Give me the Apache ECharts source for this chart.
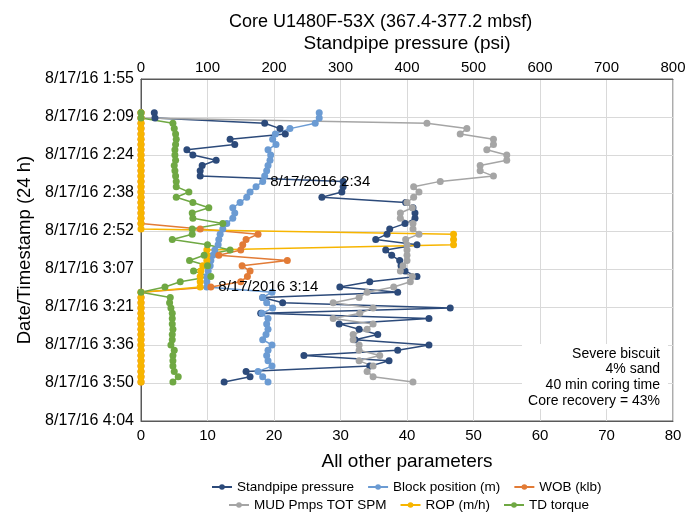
<!DOCTYPE html>
<html>
<head>
<meta charset="utf-8">
<script src="https://cdn.jsdelivr.net/npm/echarts@6/dist/echarts.min.js"></script>
<style>html,body{margin:0;padding:0;background:#fff}#c{width:696px;height:512px}</style>
</head>
<body>
<div id="c"></div>
<script>
// Sample timestamps (8/17/16, 24 h)
const times = ['2:08','2:10','2:12','2:14','2:16','2:18','2:20','2:22','2:24','2:26','2:28','2:30','2:32','2:34','2:36','2:38','2:40','2:42','2:44','2:46','2:48','2:50','2:52','2:54','2:56','2:58','3:00','3:02','3:04','3:06','3:08','3:10','3:12','3:14','3:16','3:18','3:20','3:22','3:24','3:26','3:28','3:30','3:32','3:34','3:36','3:38','3:40','3:42','3:44','3:46','3:48','3:50'];
const standpipe = [20,21,186,209,217,134,141,69,78,113,92,89,89,304,304,302,272,398,409,412,412,397,374,370,353,415,368,377,389,391,397,415,344,299,386,183,213,465,180,433,298,328,356,322,433,386,245,373,344,158,164,125];
const blockPos = [26.8,26.8,26.2,22.4,20.2,19.8,20.3,19.1,19.5,19.4,19.1,18.9,18.6,18.3,17.3,16.4,15.9,14.9,13.8,14.1,13.8,12.9,12.3,11.9,11.7,11.6,11.1,10.8,10.5,10.4,10.1,9.9,9.9,9.9,19.7,18.3,18.9,19.8,18.2,19.1,18.9,19.1,18.8,18.3,19.7,19.1,18.9,19.1,19.7,17.6,18.3,19.1];
const wob = [0,0,0,0,0,0,0,0,0,0,0,0,0,0,0,0,0,0,0,0,0,0,8.9,17.6,15.8,15.3,15.0,11.7,22.0,15.2,16.4,16.0,15.0,10.5,0,0,0,0,0,0,0,0,0,0,0,0,0,0,0,0,0,0];
const mud = [0,0,43,49,48,53,53,52,55,55,51,51,53,45,41,41.8,41,40,40.8,39,39,40.9,40.9,41.8,39.8,40,40,40,40,39.4,39,40.8,40.5,38,34,32.8,28.9,34.9,32.9,28.9,34.9,34,31.9,31.9,32.8,32.8,35.9,32.8,34.9,34,34.9,40.9];
const rop = [0,0,0,0,0,0,0,0,0,0,0,0,0,0,0,0,0,0,0,0,0,0,0,47,47,47,9.9,9.9,9.9,9.3,9.0,8.9,8.9,8.9,0,0,0,0,0,0,0,0,0,0,0,0,0,0,0,0,0,0];
const tdTorque = [0,0,4.8,5.0,5.2,5.3,5.2,5.1,5.1,5.2,5.0,5.1,5.2,5.3,5.3,7.2,5.3,7.8,10.2,7.7,7.8,12.3,7.7,7.7,4.7,10,13.4,9.5,7.3,10,7.9,10.5,5.9,3.6,0,4.4,4.3,4.5,4.7,4.7,4.7,4.8,4.7,4.7,4.5,5.0,4.8,4.8,4.8,5.0,5.6,4.8];
const annotations = [
  {series: 'Block position (m)', time: '2:34', text: '8/17/2016 2:34'},
  {series: 'WOB (klb)', time: '3:14', text: '8/17/2016 3:14'}
];
const noteLines = ['Severe biscuit', '4% sand', '40 min coring time', 'Core recovery = 43%'];

const FONT = '"Liberation Sans", Arial, Helvetica, sans-serif';
function toMin(t){ const p = t.split(':'); return (+p[0])*60 + (+p[1]); }
function build(name, vals){
  return vals.map((v,i) => {
    const item = {value: [v, toMin(times[i])]};
    const a = annotations.find(a => a.series === name && a.time === times[i]);
    if (a) item.label = {show: true, position: 'right', formatter: a.text, fontSize: 15, color: '#000', fontFamily: FONT, distance: 4};
    return item;
  });
}
const defs = [
  {name: 'Standpipe pressure', vals: standpipe, color: '#2c4a7a', axis: 1},
  {name: 'Block position (m)', vals: blockPos, color: '#6b9bd3', axis: 0},
  {name: 'WOB (klb)', vals: wob, color: '#e27b36', axis: 0},
  {name: 'MUD Pmps TOT SPM', vals: mud, color: '#a5a5a5', axis: 0},
  {name: 'ROP (m/h)', vals: rop, color: '#f7b500', axis: 0},
  {name: 'TD torque', vals: tdTorque, color: '#6fa843', axis: 0}
];
const series = defs.map(d => ({
  name: d.name, type: 'line', xAxisIndex: d.axis, yAxisIndex: 0,
  data: build(d.name, d.vals),
  symbol: 'circle', symbolSize: 7, showAllSymbol: true,
  itemStyle: {color: d.color}, lineStyle: {color: d.color, width: 1.5},
  emphasis: {disabled: true}, animation: false
}));

const noteGraphics = [{type: 'rect', shape: {x: 522, y: 344, width: 146, height: 65}, style: {fill: '#fff'}, z: 99}]
  .concat(noteLines.map((t, i) => ({type: 'text', x: 660, y: 354 + i * 15.6, z: 100,
    style: {text: t, align: 'right', verticalAlign: 'middle', fontSize: 14, fill: '#000', fontFamily: FONT}})));

const chart = echarts.init(document.getElementById('c'), null, {renderer: 'canvas'});
chart.setOption({
  backgroundColor: '#fff',
  animation: false,
  textStyle: {fontFamily: FONT},
  title: {text: 'Core U1480F-53X (367.4-377.2 mbsf)', left: 224, top: 8,
    textStyle: {fontSize: 18, fontWeight: 'normal', color: '#000', fontFamily: FONT}},
  grid: {left: 141, right: 23, top: 79, bottom: 91, show: true, borderColor: '#595959', borderWidth: 1},
  xAxis: [
    {type: 'value', position: 'bottom', min: 0, max: 80, interval: 10,
     name: 'All other parameters', nameLocation: 'middle', nameGap: 31,
     nameTextStyle: {fontSize: 19, color: '#000', fontFamily: FONT},
     axisLine: {show: true, lineStyle: {color: '#595959'}}, axisTick: {show: false},
     axisLabel: {fontSize: 15, color: '#000', margin: 7, fontFamily: FONT},
     splitLine: {show: true, lineStyle: {color: '#d9d9d9'}}},
    {type: 'value', position: 'top', min: 0, max: 800, interval: 100,
     name: 'Standpipe pressure (psi)', nameLocation: 'middle', nameGap: 26,
     nameTextStyle: {fontSize: 19, color: '#000', fontFamily: FONT},
     axisLine: {show: true, lineStyle: {color: '#595959'}}, axisTick: {show: false},
     axisLabel: {fontSize: 15, color: '#000', margin: 4, fontFamily: FONT},
     splitLine: {show: false}}
  ],
  yAxis: [{type: 'value', inverse: true, min: 115.2, max: 244.8, interval: 14.4,
    name: 'Date/Timestamp (24 h)', nameLocation: 'middle', nameGap: 107, nameRotate: 90,
    nameTextStyle: {fontSize: 18.5, color: '#000', fontFamily: FONT},
    axisLine: {show: true, lineStyle: {color: '#595959'}}, axisTick: {show: false},
    axisLabel: {fontSize: 16, color: '#000', margin: 7, fontFamily: FONT,
      formatter: v => { const m = Math.floor(Math.round(v*10)/10); return '8/17/16 ' + Math.floor(m/60) + ':' + String(m%60).padStart(2,'0'); }},
    splitLine: {show: true, lineStyle: {color: '#d9d9d9'}}}],
  legend: [
    {data: defs.slice(0,3).map(d => d.name), left: 206, top: 475, itemWidth: 20, itemHeight: 7, itemGap: 13,
     textStyle: {fontSize: 13.5, color: '#000', fontFamily: FONT}, selectedMode: false},
    {data: defs.slice(3).map(d => d.name), left: 223, top: 493, itemWidth: 20, itemHeight: 7, itemGap: 13,
     textStyle: {fontSize: 13.5, color: '#000', fontFamily: FONT}, selectedMode: false}
  ],
  graphic: noteGraphics,
  series: series
});
</script>
</body>
</html>
